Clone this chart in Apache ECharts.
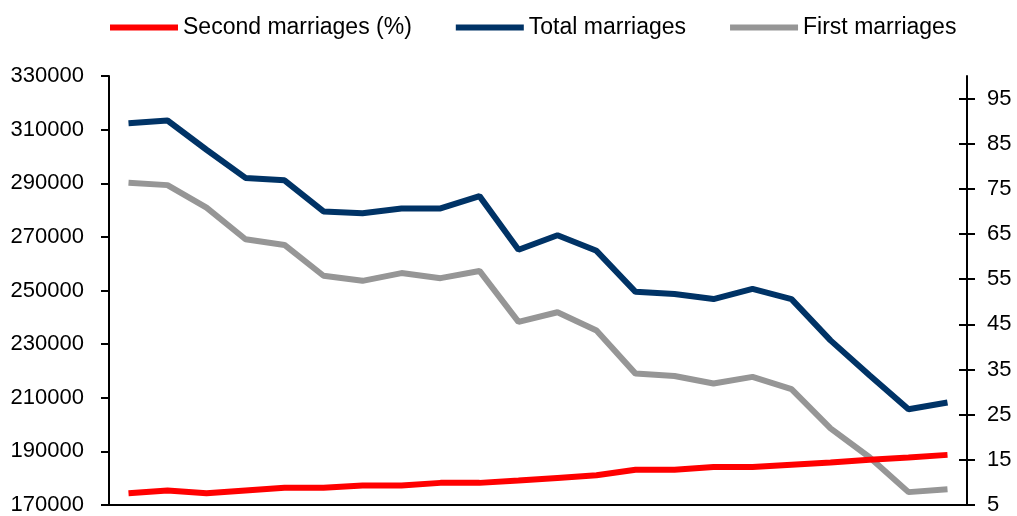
<!DOCTYPE html>
<html>
<head>
<meta charset="utf-8">
<script src="https://cdn.jsdelivr.net/npm/echarts@6/dist/echarts.min.js"></script>
<style>
html,body{margin:0;padding:0;background:#fff;}
#chart{width:1017px;height:516px;}
</style>
</head>
<body>
<div id="chart"></div>
<script>
const categories = ['1989','1990','1991','1992','1993','1994','1995','1996','1997','1998','1999','2000','2001','2002','2003','2004','2005','2006','2007','2008','2009','2010'];
const secondMarriagesPct = [7.6, 8.2, 7.6, 8.2, 8.8, 8.8, 9.3, 9.3, 9.9, 9.9, 10.4, 11.0, 11.6, 12.8, 12.8, 13.4, 13.4, 13.9, 14.4, 15.0, 15.5, 16.1];
const totalMarriages = [312400, 313400, 302500, 292000, 291100, 279500, 278800, 280600, 280600, 285200, 265200, 270600, 264800, 249500, 248700, 246800, 250600, 246800, 231400, 218400, 205700, 208200];
const firstMarriages = [290200, 289300, 280900, 269100, 267000, 255500, 253600, 256500, 254600, 257300, 238300, 241900, 235100, 219000, 218100, 215300, 217800, 213200, 198600, 187800, 174800, 175900];
const rightTicks = [5, 15, 25, 35, 45, 55, 65, 75, 85, 95];

const FONT = 'Liberation Sans, Arial, sans-serif';
const chart = echarts.init(document.getElementById('chart'), null, {renderer: 'canvas'});
chart.setOption({
  animation: false,
  backgroundColor: '#ffffff',
  textStyle: {fontFamily: FONT},
  legend: {
    left: 105, top: 11,
    icon: 'rect', itemWidth: 68, itemHeight: 6, itemGap: 44,
    textStyle: {fontFamily: FONT, fontSize: 23, color: '#000'},
    data: ['Second marriages (%)', 'Total marriages', 'First marriages']
  },
  grid: {left: 109, right: 50, top: 76, bottom: 9, containLabel: false},
  xAxis: {
    type: 'category', data: categories, boundaryGap: true,
    axisLine: {show: true, lineStyle: {color: '#000', width: 2}},
    axisTick: {show: false}, axisLabel: {show: false}, splitLine: {show: false}
  },
  yAxis: [
    {
      type: 'value', position: 'left', min: 170000, max: 330000, interval: 20000,
      axisLine: {show: true, lineStyle: {color: '#000', width: 2}},
      axisTick: {show: true, inside: false, length: 8, lineStyle: {color: '#000', width: 2}},
      axisLabel: {fontFamily: FONT, fontSize: 22, color: '#000', margin: 25,
        formatter: v => String(v)},
      splitLine: {show: false}
    },
    {
      type: 'value', position: 'right', min: 5, max: 100,
      axisLine: {show: true, lineStyle: {color: '#000', width: 2}},
      axisTick: {show: true, inside: false, length: 8, customValues: rightTicks, lineStyle: {color: '#000', width: 2}},
      axisLabel: {fontFamily: FONT, fontSize: 22, color: '#000', margin: 20, customValues: rightTicks,
        formatter: v => String(v)},
      splitLine: {show: false}
    },
    {
      type: 'value', position: 'right', min: 5, max: 100,
      axisLine: {show: false},
      axisTick: {show: true, inside: true, length: 8, customValues: rightTicks, lineStyle: {color: '#000', width: 2}},
      axisLabel: {show: false},
      splitLine: {show: false}
    }
  ],
  series: [
    {
      name: 'Second marriages (%)', type: 'line', yAxisIndex: 1, data: secondMarriagesPct,
      symbol: 'none', lineStyle: {color: '#ff0000', width: 6}, itemStyle: {color: '#ff0000'}, z: 4
    },
    {
      name: 'Total marriages', type: 'line', yAxisIndex: 0, data: totalMarriages,
      symbol: 'none', lineStyle: {color: '#003366', width: 6}, itemStyle: {color: '#003366'}, z: 3
    },
    {
      name: 'First marriages', type: 'line', yAxisIndex: 0, data: firstMarriages,
      symbol: 'none', lineStyle: {color: '#969696', width: 6}, itemStyle: {color: '#969696'}, z: 2
    }
  ]
});
</script>
</body>
</html>
